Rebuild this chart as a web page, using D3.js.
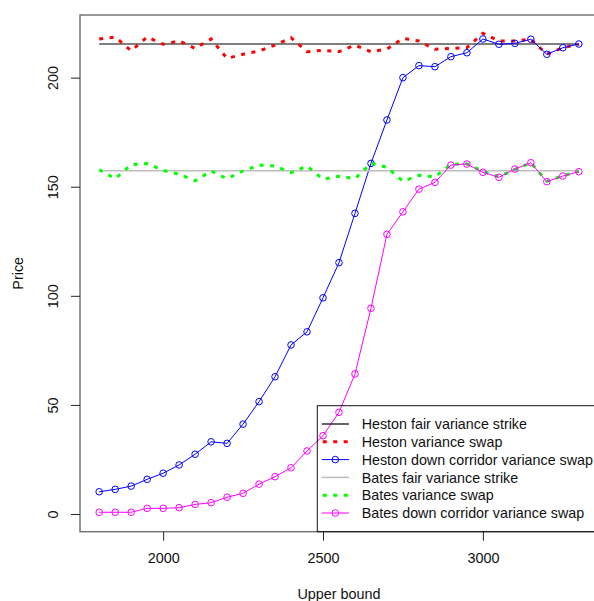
<!DOCTYPE html>
<html>
<head>
<meta charset="utf-8">
<script src="https://cdn.jsdelivr.net/npm/d3@7"></script>
<style>
  html, body { margin: 0; padding: 0; background: #fff; }
  svg { display: block; font-family: "Liberation Sans", Arial, sans-serif; }
</style>
</head>
<body>
<svg id="chart" width="594" height="601"></svg>
<script>
const upperBound = [1800,1850,1900,1950,2000,2050,2100,2150,2200,2250,2300,2350,2400,2450,2500,2550,2600,2650,2700,2750,2800,2850,2900,2950,3000,3050,3100,3150,3200,3250,3300];

const hestonFairStrike = 215.4;
const batesFairStrike = 157.3;

const hestonVarSwap = [217.7,218.6,212.3,218.6,215.3,216.8,213.4,217.7,208.8,210.7,212.2,214.9,218.3,211.9,212.5,211.9,214.9,211.9,213.1,218.0,216.8,213.0,213.4,213.7,220.3,216.8,216.8,217.6,210.7,213.7,215.3];

const hestonCorridor = [10.2,11.3,12.8,15.9,18.7,22.5,27.4,33.1,32.4,41.2,51.5,62.9,77.5,83.5,99.1,115.2,137.8,160.7,180.6,200.0,205.5,205.0,209.6,211.4,217.7,215.3,215.7,217.6,210.7,213.7,215.4];

const batesVarSwap = [157.8,153.7,160.1,160.6,157.5,155.7,152.7,157.2,153.7,157.2,159.9,159.5,156.5,159.5,153.4,154.8,153.7,160.7,158.9,152.5,155.2,154.5,160.3,160.5,157.0,154.5,158.0,161.0,152.5,155.0,157.0];

const batesCorridor = [0.8,0.8,0.8,2.6,2.6,2.9,4.4,5.2,7.7,9.5,13.7,17.1,21.2,28.9,35.9,46.6,64.2,94.3,128.2,138.5,148.9,152.0,159.9,160.4,156.6,154.3,158.1,161.0,152.3,154.9,156.9];

const xTicks = [2000, 2500, 3000];
const yTicks = [0, 50, 100, 150, 200];

const legendLabels = ["Heston fair variance strike","Heston variance swap","Heston down corridor variance swap","Bates fair variance strike","Bates variance swap","Bates down corridor variance swap"];

const svg = d3.select("#chart");
const FS = 14.4;
const LFS = 14.3;

const x = d3.scaleLinear().domain([1740, 3360]).range([80, 598]);
const y = d3.scaleLinear().domain([-8.1, 228.7]).range([531.7, 15]);

const line = d3.line().x(d => x(d[0])).y(d => y(d[1]));
const pairs = arr => upperBound.map((u, i) => [u, arr[i]]);

const DASH = "4,6.5";

// Heston fair strike
svg.append("path").attr("d", line([[upperBound[0], hestonFairStrike],[upperBound[upperBound.length-1], hestonFairStrike]]))
  .attr("fill","none").attr("stroke","#000").attr("stroke-width",1.2);
// Heston var swap
svg.append("path").attr("d", line(pairs(hestonVarSwap)))
  .attr("fill","none").attr("stroke","#ff0000").attr("stroke-width",3).attr("stroke-dasharray",DASH);
// Heston corridor
svg.append("path").attr("d", line(pairs(hestonCorridor)))
  .attr("fill","none").attr("stroke","#0000ff").attr("stroke-width",1);
svg.append("g").selectAll("circle").data(pairs(hestonCorridor)).join("circle")
  .attr("cx", d => x(d[0])).attr("cy", d => y(d[1])).attr("r", 3.3)
  .attr("fill","none").attr("stroke","#0000ff").attr("stroke-width",1);
// Bates fair strike
svg.append("path").attr("d", line([[upperBound[0], batesFairStrike],[upperBound[upperBound.length-1], batesFairStrike]]))
  .attr("fill","none").attr("stroke","#bebebe").attr("stroke-width",1.5);
// Bates var swap
svg.append("path").attr("d", line(pairs(batesVarSwap)))
  .attr("fill","none").attr("stroke","#00ff00").attr("stroke-width",3).attr("stroke-dasharray",DASH);
// Bates corridor
svg.append("path").attr("d", line(pairs(batesCorridor)))
  .attr("fill","none").attr("stroke","#ff00ff").attr("stroke-width",1);
svg.append("g").selectAll("circle").data(pairs(batesCorridor)).join("circle")
  .attr("cx", d => x(d[0])).attr("cy", d => y(d[1])).attr("r", 3.3)
  .attr("fill","none").attr("stroke","#ff00ff").attr("stroke-width",1);

// plot box
svg.append("rect").attr("x",80).attr("y",15).attr("width",518).attr("height",516.7)
  .attr("fill","none").attr("stroke","#777").attr("stroke-width",1.5);

// x axis
const gx = svg.append("g").attr("transform","translate(0,531.7)")
  .call(d3.axisBottom(x).tickValues(xTicks).tickSize(9).tickPadding(22).tickFormat(d3.format("d")));
gx.select(".domain").remove();
gx.selectAll("line").attr("stroke","#222");
gx.selectAll("text").attr("font-size",FS).attr("fill","#111").attr("dy",null).attr("y",31.5)
  .style("font-family","'Liberation Sans', Arial, sans-serif");

// y axis
const gy = svg.append("g").attr("transform","translate(80,0)")
  .call(d3.axisLeft(y).tickValues(yTicks).tickSize(9).tickFormat(d3.format("d")));
gy.select(".domain").remove();
gy.selectAll("line").attr("stroke","#222");
gy.selectAll("text").attr("font-size",FS).attr("fill","#111")
  .attr("x",null).attr("dy",null)
  .attr("text-anchor","middle")
  .attr("transform","translate(-21.7,0) rotate(-90)")
  .style("font-family","'Liberation Sans', Arial, sans-serif");

// axis titles
svg.append("text").attr("x",339).attr("y",598.5).attr("text-anchor","middle")
  .attr("font-size",FS).attr("fill","#111").text("Upper bound");
svg.append("text").attr("transform","translate(23.3,273.3) rotate(-90)").attr("text-anchor","middle")
  .attr("font-size",FS).attr("fill","#111").text("Price");

// legend
const lg = svg.append("g");
lg.append("rect").attr("x",317.3).attr("y",405.7).attr("width",280.7).attr("height",126)
  .attr("fill","none").attr("stroke","#111").attr("stroke-width",1);
const legendStyles = [
  {color:"#000", width:1.2, dash:null, pt:false},
  {color:"#ff0000", width:3, dash:DASH, pt:false},
  {color:"#0000ff", width:1, dash:null, pt:true},
  {color:"#bebebe", width:1.5, dash:null, pt:false},
  {color:"#00ff00", width:3, dash:DASH, pt:false},
  {color:"#ff00ff", width:1, dash:null, pt:true}
];
legendLabels.forEach((lab, i) => {
  const yy = 424 + i * 17.8;
  const s = legendStyles[i];
  const l = lg.append("line").attr("x1",321.7).attr("x2",349).attr("y1",yy).attr("y2",yy)
    .attr("stroke",s.color).attr("stroke-width",s.width);
  if (s.dash) l.attr("stroke-dasharray",s.dash).attr("stroke-dashoffset",-1);
  if (s.pt) lg.append("circle").attr("cx",335.3).attr("cy",yy).attr("r",3.3)
    .attr("fill","none").attr("stroke",s.color).attr("stroke-width",1);
  lg.append("text").attr("x",361.7).attr("y",yy).attr("dy","0.36em")
    .attr("font-size",LFS).attr("fill","#111").text(lab);
});
</script>
</body>
</html>
